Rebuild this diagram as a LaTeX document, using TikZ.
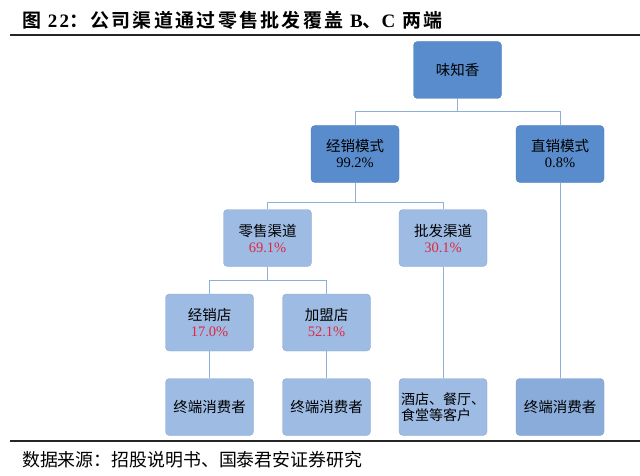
\documentclass[tikz,border=0pt]{standalone}
\usepackage{fontspec}
\setmainfont{Liberation Serif}
\newfontfamily\cjk{Noto Sans CJK SC}
\newfontfamily\cjkb{Noto Sans CJK SC Bold}[LetterSpace=12]
\newfontfamily\serifb{Liberation Serif Bold}[LetterSpace=12]
\definecolor{darkbox}{RGB}{88,140,204}
\definecolor{lightbox}{RGB}{157,187,227}
\definecolor{midbox}{RGB}{138,172,219}
\definecolor{conn}{RGB}{140,176,216}
\definecolor{pctred}{RGB}{225,40,65}
\tikzset{
  boxbase/.style={rectangle, rounded corners=4pt, minimum width=88pt, minimum height=57pt, inner sep=1pt, align=center, font=\cjk\fontsize{14.5}{16}\selectfont, text=black},
  darkstyle/.style={boxbase, fill=darkbox, draw=darkbox!90!black, line width=0.4pt},
  lightstyle/.style={boxbase, fill=lightbox, draw=lightbox!90!black, line width=0.4pt},
  midstyle/.style={boxbase, fill=midbox, draw=midbox!90!black, line width=0.4pt},
  connline/.style={draw=conn, line width=1pt},
  rule/.style={draw=black!85, line width=1.4pt}
}
\newcommand{\pct}[1]{{\fontspec{Liberation Serif}#1}}
\newcommand{\rpct}[1]{{\fontspec{Liberation Serif}\color{pctred}#1}}
\begin{document}
\begin{tikzpicture}[x=1pt,y=-1pt]
\useasboundingbox (0,0) rectangle (640,476);
\fill[white] (0,0) rectangle (640,476);
% title
\node[anchor=west, inner sep=0pt, font=\cjkb\fontsize{19}{19}\selectfont] (title) at (22,20) {图\ {\serifb 22}：公司渠道通过零售批发覆盖\ {\serifb B}、{\serifb C}\ 两端};
\coordinate (t1) at (10,35);
\coordinate (t2) at (640,35);
\draw[rule] (t1) -- (t2);
% boxes
\node[darkstyle] (top) at (457.5,70) {味知香};
\node[darkstyle] (jx) at (355,154) {经销模式\\\pct{99.2\%}};
\node[darkstyle] (zx) at (560,154) {直销模式\\\pct{0.8\%}};
\node[lightstyle] (ls) at (267.5,238) {零售渠道\\\rpct{69.1\%}};
\node[lightstyle] (pf) at (443,238) {批发渠道\\\rpct{30.1\%}};
\node[lightstyle] (jxd) at (209.5,322.5) {经销店\\\rpct{17.0\%}};
\node[lightstyle] (jmd) at (326.5,322.5) {加盟店\\\rpct{52.1\%}};
\node[lightstyle] (b1) at (209.5,407) {终端消费者};
\node[lightstyle] (b2) at (326.5,407) {终端消费者};
\node[lightstyle, align=left, font=\cjk\fontsize{14}{15.5}\selectfont] (b3) at (443,407) {酒店、餐厅、\\食堂等客户};
\node[midstyle] (b4) at (560,407) {终端消费者};
% connectors
\coordinate (h1) at (457.5,112);
\coordinate (h2) at (355,202);
\coordinate (h3) at (267.5,280);
\draw[connline] (top.south) -- (h1);
\draw[connline] (h1) -| (jx.north);
\draw[connline] (h1) -| (zx.north);
\draw[connline] (jx.south) -- (h2);
\draw[connline] (h2) -| (ls.north);
\draw[connline] (h2) -| (pf.north);
\draw[connline] (ls.south) -- (h3);
\draw[connline] (h3) -| (jxd.north);
\draw[connline] (h3) -| (jmd.north);
\draw[connline] (jxd.south) -- (b1.north);
\draw[connline] (jmd.south) -- (b2.north);
\draw[connline] (pf.south) -- (b3.north);
\draw[connline] (zx.south) -- (b4.north);
% bottom rule and source
\coordinate (s1) at (10,441);
\coordinate (s2) at (640,441);
\draw[rule] (s1) -- (s2);
\node[anchor=west, inner sep=0pt, font=\cjk\fontsize{17.9}{17.9}\selectfont] (src) at (22,460) {数据来源：招股说明书、国泰君安证券研究};
\end{tikzpicture}
\end{document}
